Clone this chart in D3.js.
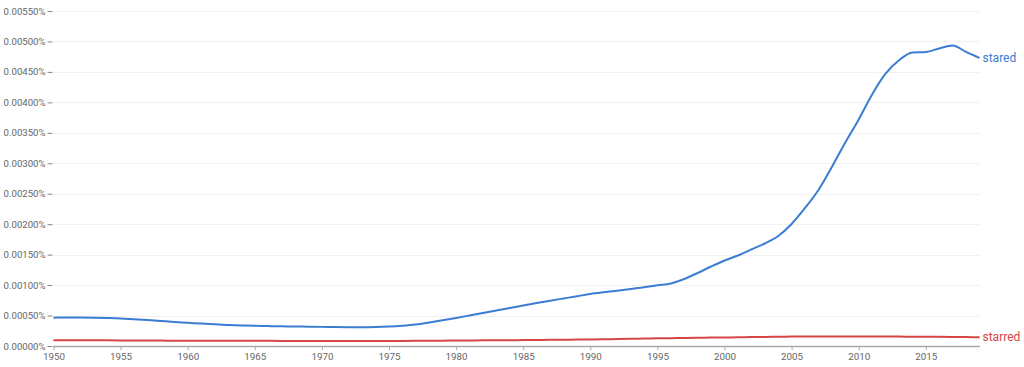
<!DOCTYPE html>
<html>
<head>
<meta charset="utf-8">
<script src="https://cdn.jsdelivr.net/npm/d3@7"></script>
<style>
  html, body { margin: 0; padding: 0; background: #fff; }
  svg { display: block; font-family: Roboto, "Open Sans", sans-serif; }
</style>
</head>
<body>
<svg id="chart" width="1024" height="367"></svg>
<script>
const years = d3.range(1950, 2020);
const yTicks = [0, 0.0005, 0.001, 0.0015, 0.002, 0.0025, 0.003, 0.0035, 0.004, 0.0045, 0.005, 0.0055];
const xTicks = [1950, 1955, 1960, 1965, 1970, 1975, 1980, 1985, 1990, 1995, 2000, 2005, 2010, 2015];
const seriesNames = ["stared", "starred"];
// values in percent
const stared = [
  0.000465, 0.000467, 0.000467, 0.000465, 0.000460, 0.000452, 0.000440, 0.000427, 0.000411, 0.000394,
  0.000381, 0.000368, 0.000356, 0.000346, 0.000338, 0.000332, 0.000327, 0.000323, 0.000320, 0.000317,
  0.000314, 0.000310, 0.000309, 0.000309, 0.000312, 0.000320, 0.000333, 0.000353, 0.000386, 0.000422,
  0.000460, 0.000501, 0.000542, 0.000583, 0.000624, 0.000665, 0.000706, 0.000744, 0.000780, 0.000816,
  0.000854, 0.000882, 0.000907, 0.000936, 0.000964, 0.000997, 0.001026, 0.001100, 0.001199, 0.001305,
  0.001404, 0.001486, 0.001585, 0.001683, 0.001806, 0.002003, 0.002266, 0.002562, 0.002940, 0.003340,
  0.003720, 0.004130, 0.004470, 0.004690, 0.004819, 0.004828, 0.004885, 0.004934, 0.004828, 0.004729
];
const starred = [
  0.0000936, 0.0000936, 0.0000936, 0.0000930, 0.0000925, 0.0000915, 0.0000905, 0.0000895, 0.0000885, 0.0000880,
  0.0000875, 0.0000870, 0.0000865, 0.0000860, 0.0000855, 0.0000850, 0.0000845, 0.0000840, 0.0000835, 0.0000830,
  0.0000825, 0.0000820, 0.0000815, 0.0000815, 0.0000820, 0.0000825, 0.0000835, 0.0000850, 0.0000865, 0.0000880,
  0.0000895, 0.0000910, 0.0000925, 0.0000940, 0.0000955, 0.0000970, 0.0000990, 0.0001010, 0.0001030, 0.0001050,
  0.0001070, 0.0001100, 0.0001140, 0.0001180, 0.0001220, 0.0001260, 0.0001290, 0.0001320, 0.0001350, 0.0001380,
  0.0001400, 0.0001430, 0.0001460, 0.0001490, 0.0001520, 0.0001540, 0.0001560, 0.0001570, 0.0001570, 0.0001560,
  0.0001550, 0.0001550, 0.0001550, 0.0001540, 0.0001530, 0.0001520, 0.0001500, 0.0001480, 0.0001460, 0.0001440
];
const colors = ["#3b7dd1", "#d64545"];

const svg = d3.select("#chart");
const margin = { left: 53.5, right: 980, top: 11, bottom: 346 };

const x = d3.scaleLinear().domain([1950, 2019]).range([margin.left, margin.right - 0.5]);
const y = d3.scaleLinear().domain([0, 0.0055]).range([margin.bottom, margin.top]);

// gridlines
svg.append("g")
  .selectAll("line")
  .data(yTicks.slice(1))
  .join("line")
  .attr("x1", margin.left)
  .attr("x2", margin.right)
  .attr("y1", d => Math.round(y(d)) + 0.5)
  .attr("y2", d => Math.round(y(d)) + 0.5)
  .attr("stroke", "#f1f1f1")
  .attr("stroke-width", 1);

// y axis
const yAxis = d3.axisLeft(y)
  .tickValues(yTicks)
  .tickFormat(d => d3.format(".5f")(d) + "%")
  .tickSize(5)
  .tickPadding(2);
const gy = svg.append("g")
  .attr("transform", `translate(${margin.left - 1},0)`)
  .call(yAxis);
gy.select(".domain").remove();
gy.selectAll(".tick line").attr("stroke", "#888");
gy.selectAll(".tick text")
  .attr("fill", "#666")
  .style("font-size", "9.6px")
  .style("font-family", "Roboto, sans-serif");

// x axis
const xAxis = d3.axisBottom(x)
  .tickValues(xTicks)
  .tickFormat(d3.format("d"))
  .tickSize(4)
  .tickPadding(3);
const gx = svg.append("g")
  .attr("transform", `translate(0,${margin.bottom})`)
  .call(xAxis);
gx.select(".domain")
  .attr("d", `M${margin.left},0.5H${margin.right}`)
  .attr("stroke", "#aaa")
  .attr("stroke-width", 1.5);
gx.selectAll(".tick line").attr("stroke", "#aaa");
gx.selectAll(".tick text")
  .attr("fill", "#666")
  .style("font-size", "9.8px")
  .style("font-family", "Roboto, sans-serif");

// lines
const line = d3.line()
  .x((d, i) => x(years[i]))
  .y(d => y(d))
  .curve(d3.curveMonotoneX);

const allSeries = [stared, starred];
allSeries.forEach((vals, k) => {
  svg.append("path")
    .datum(vals)
    .attr("fill", "none")
    .attr("stroke", colors[k])
    .attr("stroke-width", 2)
    .attr("d", line);
  svg.append("text")
    .attr("x", x(2019) + 3)
    .attr("y", y(vals[vals.length - 1]))
    .attr("dy", "0.35em")
    .attr("fill", colors[k])
    .style("font-size", "12px")
    .style("font-family", "Roboto, sans-serif")
    .text(seriesNames[k]);
});
</script>
</body>
</html>
